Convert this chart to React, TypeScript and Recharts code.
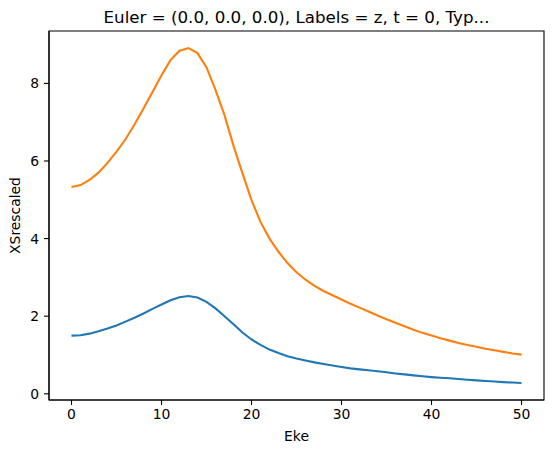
import { Line, LineChart, XAxis, YAxis, ReferenceArea } from "recharts";

// Eke values 0..50
const eke: number[] = Array.from({ length: 51 }, (_, i) => i);

const blueValues: number[] = [
  1.5, 1.51, 1.55, 1.61, 1.68, 1.76, 1.86, 1.96, 2.07, 2.19,
  2.3, 2.41, 2.49, 2.52, 2.48, 2.37, 2.2, 2.0, 1.79, 1.58,
  1.4, 1.26, 1.14, 1.05, 0.97, 0.91, 0.86, 0.81, 0.77, 0.73,
  0.69, 0.655, 0.63, 0.605, 0.58, 0.555, 0.525, 0.5, 0.475, 0.45,
  0.43, 0.415, 0.4, 0.38, 0.36, 0.345, 0.33, 0.315, 0.3, 0.29,
  0.28,
];

const orangeValues: number[] = [
  5.33, 5.38, 5.51, 5.7, 5.95, 6.24, 6.56, 6.94, 7.35, 7.78,
  8.21, 8.6, 8.84, 8.91, 8.78, 8.41, 7.83, 7.18, 6.39, 5.68,
  4.99, 4.43, 4.0, 3.66, 3.37, 3.13, 2.94, 2.78, 2.65, 2.54,
  2.43, 2.32, 2.22, 2.12, 2.02, 1.92, 1.83, 1.74, 1.65, 1.57,
  1.5, 1.43, 1.37, 1.31, 1.26, 1.21, 1.16, 1.12, 1.08, 1.04,
  1.01,
];

const xTicks = [0, 10, 20, 30, 40, 50];
const yTicks = [0, 2, 4, 6, 8];

const title = "Euler = (0.0, 0.0, 0.0), Labels = z, t = 0, Typ...";
const xLabel = "Eke";
const yLabel = "XSrescaled";

const data = eke.map((x, i) => ({ eke: x, a: blueValues[i], b: orangeValues[i] }));

const FONT = "'DejaVu Sans', sans-serif";
const X_DOMAIN: [number, number] = [-2.5, 52.5];
const Y_DOMAIN: [number, number] = [-0.16, 9.35];

const tickStyle = { fill: "#000", fontSize: 13.9, fontFamily: FONT };
const axisLine = { stroke: "#000", strokeWidth: 1.1 };

export default function App() {
  return (
    <div style={{ position: "absolute", left: 0, top: 0, background: "#fff" }}>
      <LineChart
        width={554}
        height={453}
        data={data}
        margin={{ top: 31, right: 10, bottom: 0, left: 0 }}
      >
        <XAxis
          dataKey="eke"
          type="number"
          domain={X_DOMAIN}
          ticks={xTicks}
          allowDataOverflow
          height={53}
          tick={tickStyle}
          tickSize={5}
          tickMargin={4}
          tickLine={axisLine}
          axisLine={axisLine}
          label={{
            content: ({ viewBox }: any) => (
              <text
                x={viewBox.x + viewBox.width / 2}
                y={441}
                textAnchor="middle"
                fontSize={13.9}
                fontFamily={FONT}
                fill="#000"
              >
                {xLabel}
              </text>
            ),
          }}
        />
        <YAxis
          type="number"
          domain={Y_DOMAIN}
          ticks={yTicks}
          allowDataOverflow
          width={49}
          tick={tickStyle}
          tickSize={5}
          tickMargin={5}
          tickLine={axisLine}
          axisLine={axisLine}
          label={{
            content: ({ viewBox }: any) => {
              const cy = viewBox.y + viewBox.height / 2;
              return (
                <text
                  x={15}
                  y={cy}
                  transform={`rotate(-90 15 ${cy})`}
                  textAnchor="middle"
                  dominantBaseline="central"
                  fontSize={13.9}
                  fontFamily={FONT}
                  fill="#000"
                >
                  {yLabel}
                </text>
              );
            },
          }}
        />
        <Line
          type="linear"
          dataKey="a"
          stroke="#1f77b4"
          strokeWidth={2.1}
          dot={false}
          isAnimationActive={false}
        />
        <Line
          type="linear"
          dataKey="b"
          stroke="#ff7f0e"
          strokeWidth={2.1}
          dot={false}
          isAnimationActive={false}
        />
        <ReferenceArea
          x1={X_DOMAIN[0]}
          x2={X_DOMAIN[1]}
          y1={Y_DOMAIN[0]}
          y2={Y_DOMAIN[1]}
          fill="none"
          stroke="#000"
          strokeWidth={1.1}
          ifOverflow="visible"
          label={{
            content: ({ viewBox }: any) => (
              <text
                x={viewBox.x + viewBox.width / 2}
                y={viewBox.y - 8.5}
                textAnchor="middle"
                fontSize={16.7}
                fontFamily={FONT}
                fill="#000"
              >
                {title}
              </text>
            ),
          }}
        />
      </LineChart>
    </div>
  );
}
